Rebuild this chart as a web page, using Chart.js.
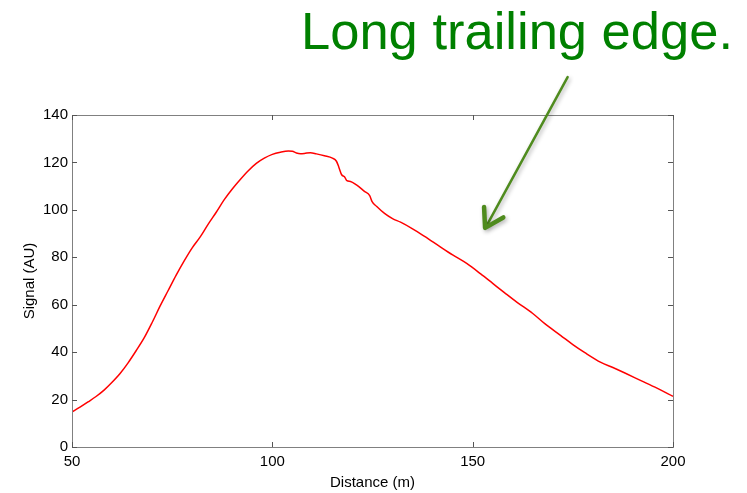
<!DOCTYPE html>
<html>
<head>
<meta charset="utf-8">
<script src="https://cdn.jsdelivr.net/npm/chart.js@4/dist/chart.umd.min.js"></script>
<style>
  html, body { margin: 0; padding: 0; background: #fff; }
  #wrap { position: relative; width: 747px; height: 493px; }
  #c { position: absolute; left: 0; top: 0; }
  #note { position: absolute; left: 301px; top: 5px; font-family: "Liberation Sans", Arial, sans-serif;
          font-size: 52.5px; line-height: 52px; color: #008000; white-space: nowrap; }
</style>
</head>
<body>
<div id="wrap">
  <canvas id="c" width="747" height="493"></canvas>
  <div id="note">Long trailing edge.</div>
</div>
<script>
// ---- data ----
const distance = [50,52,54,56,58,60,62,64,66,68,70,72,74,76,78,80,82,84,86,88,90,92,94,96,98,100,102,104,105,106,107,108,109.5,111,113,115,116,116.6,117.3,118,118.6,119.5,121,123,124.3,124.9,126,128,130,132,135,138,142,145,148.6,152,155,158,161,165,168,172,175,178,182,185,188,192,196,200];
const signal   = [14.8,16.8,19,21.3,24,27.3,31,35.5,40.6,46,52.5,59.5,66,72.5,78.5,84,88.6,94,99,104.3,108.8,112.8,116.5,119.6,121.8,123.4,124.3,124.8,124.7,124,123.7,123.8,124.1,123.6,122.8,121.8,120.5,118,114.8,114,112.3,112,110.5,107.8,106,103.5,101.5,98.5,96.3,94.8,92,88.8,84.3,81,77.3,73,69,65,61.1,56.3,52,47,43.2,39.8,35.7,33.5,31.2,28,24.8,21.4];
const xTicks = [50,100,150,200];
const yTicks = [0,20,40,60,80,100,120,140];
const xLabel = "Distance (m)";
const yLabel = "Signal (AU)";
// arrow annotation in data coordinates: [from, to]
const arrowFrom = [173.7, 156];
const arrowTo   = [153.1, 92.4];

const boxPlugin = {
  id: 'boxTicks',
  afterDraw(chart) {
    const ctx = chart.ctx, a = chart.chartArea;
    const xs = chart.scales.x, ys = chart.scales.y;
    ctx.save();
    ctx.strokeStyle = '#808080';
    ctx.lineWidth = 1;
    ctx.strokeRect(Math.round(a.left)+0.5, Math.round(a.top)+0.5, Math.round(a.right-a.left), Math.round(a.bottom-a.top));
    ctx.strokeStyle = '#555';
    ctx.beginPath();
    const tl = 5;
    xTicks.forEach(v => {
      const px = Math.round(xs.getPixelForValue(v)) + 0.5;
      ctx.moveTo(px, a.bottom); ctx.lineTo(px, a.bottom - tl);
      ctx.moveTo(px, a.top); ctx.lineTo(px, a.top + tl);
    });
    yTicks.forEach(v => {
      const py = Math.round(ys.getPixelForValue(v)) + 0.5;
      ctx.moveTo(a.left, py); ctx.lineTo(a.left + tl, py);
      ctx.moveTo(a.right, py); ctx.lineTo(a.right - tl, py);
    });
    ctx.stroke();

    // arrow annotation
    const x1 = xs.getPixelForValue(arrowFrom[0]), y1 = ys.getPixelForValue(arrowFrom[1]);
    const x2 = xs.getPixelForValue(arrowTo[0]),   y2 = ys.getPixelForValue(arrowTo[1]);
    ctx.shadowColor = 'rgba(0,0,0,0.3)';
    ctx.shadowBlur = 4;
    ctx.shadowOffsetX = 1.5;
    ctx.shadowOffsetY = 2;
    ctx.strokeStyle = '#4f8b1e';
    ctx.lineCap = 'round';
    ctx.lineJoin = 'round';
    ctx.lineWidth = 2.5;
    ctx.beginPath();
    ctx.moveTo(x1, y1); ctx.lineTo(x2 + 2, y2 - 3);
    ctx.stroke();
    const ang = Math.atan2(y1 - y2, x1 - x2);
    const hl = 21, spread = 0.55;
    ctx.lineWidth = 4.5;
    ctx.beginPath();
    ctx.moveTo(x2 + hl*Math.cos(ang - spread), y2 + hl*Math.sin(ang - spread));
    ctx.lineTo(x2, y2);
    ctx.lineTo(x2 + hl*Math.cos(ang + spread), y2 + hl*Math.sin(ang + spread));
    ctx.stroke();
    ctx.restore();
  }
};

const font = { family: '"Liberation Sans", Arial, Helvetica, sans-serif', size: 15 };

new Chart(document.getElementById('c'), {
  type: 'line',
  data: {
    datasets: [{
      data: distance.map((d, i) => ({ x: d, y: signal[i] })),
      borderColor: '#ff0000',
      borderWidth: 1.5,
      pointRadius: 0,
      cubicInterpolationMode: 'monotone',
      fill: false
    }]
  },
  options: {
    responsive: false,
    animation: false,
    events: [],
    layout: { padding: { top: 115, right: 74, left: 0, bottom: 0 } },
    plugins: { legend: { display: false }, tooltip: { enabled: false }, title: { display: false } },
    scales: {
      x: {
        type: 'linear', min: 50, max: 200,
        afterBuildTicks: s => { s.ticks = xTicks.map(v => ({ value: v })); },
        afterFit: s => { s.height = 46; },
        grid: { display: false, drawTicks: false },
        border: { display: false },
        ticks: { color: '#000', font: font, padding: 6, maxRotation: 0 },
        title: { display: true, text: xLabel, color: '#000', font: font, padding: { top: 0, bottom: 1 } }
      },
      y: {
        type: 'linear', min: 0, max: 140,
        afterBuildTicks: s => { s.ticks = yTicks.map(v => ({ value: v })); },
        afterFit: s => { s.width = 72; },
        grid: { display: false, drawTicks: false },
        border: { display: false },
        ticks: { color: '#000', font: font, padding: 4 },
        title: { display: true, text: yLabel, color: '#000', font: font, padding: { top: 21, bottom: 0 } }
      }
    }
  },
  plugins: [boxPlugin]
});
</script>
</body>
</html>
